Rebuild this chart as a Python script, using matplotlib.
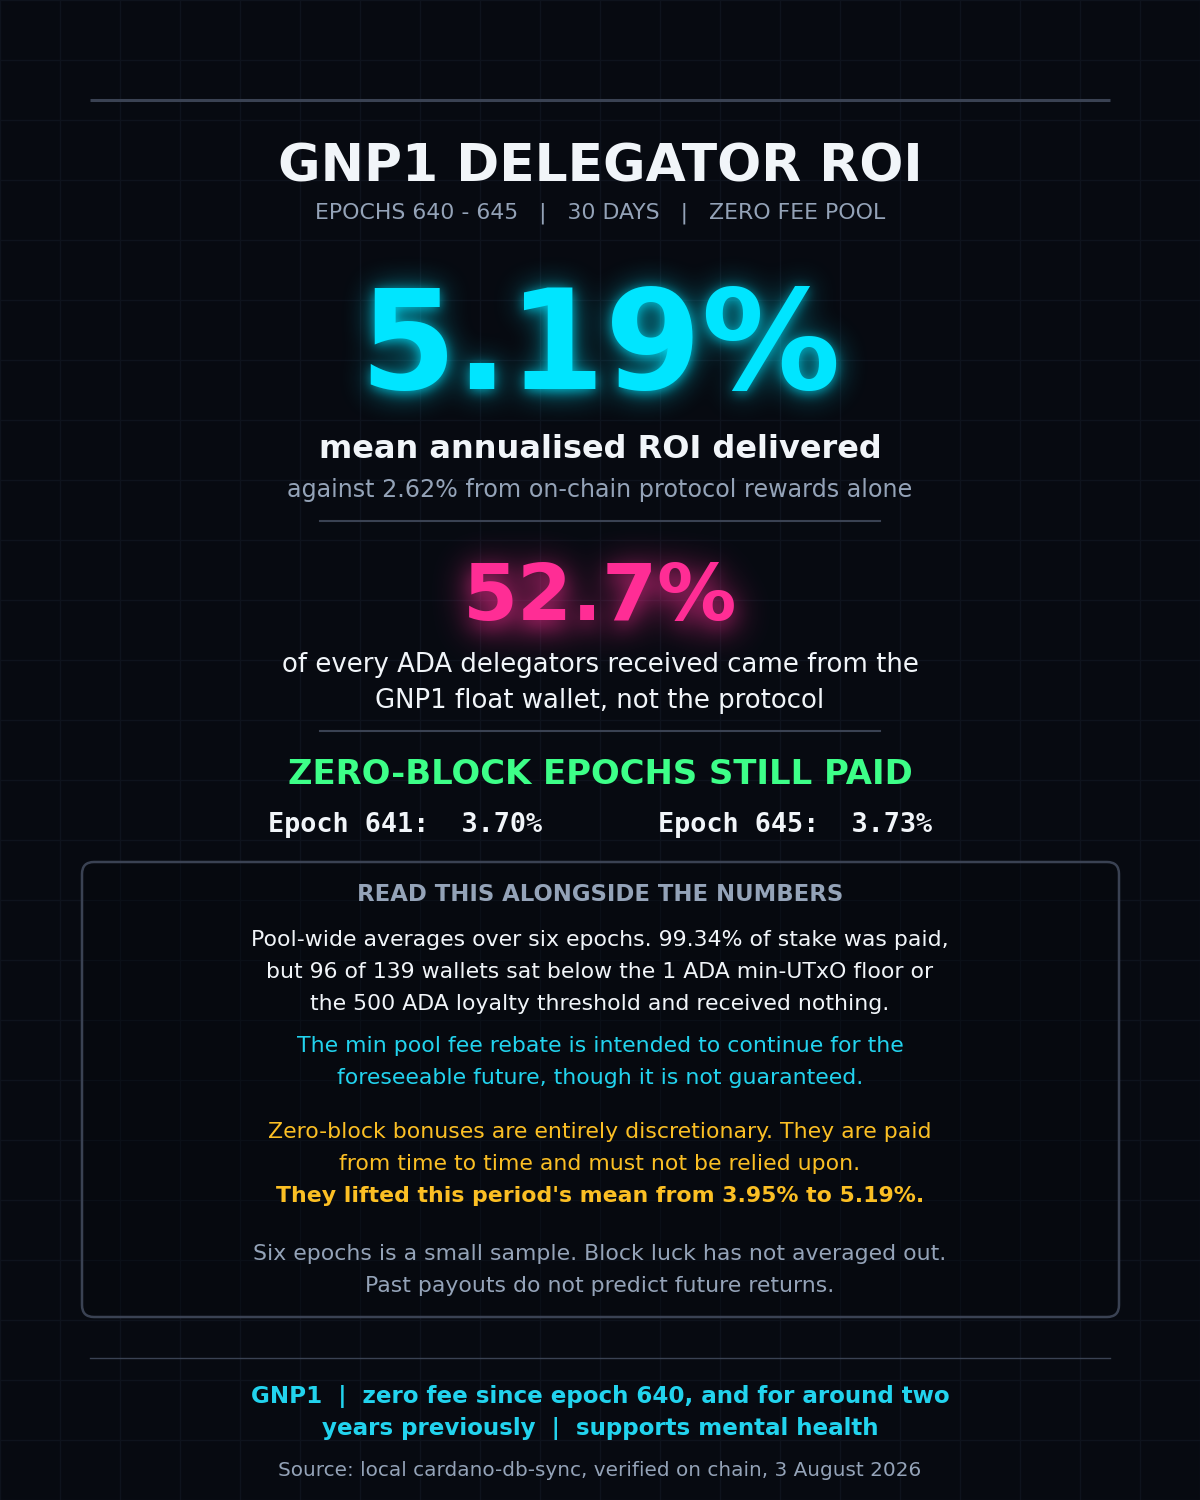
import matplotlib
matplotlib.use("Agg")
import numpy as np
import matplotlib.pyplot as plt
from matplotlib.patches import FancyBboxPatch
from matplotlib.colors import to_rgb

# ---- content ----
title = "GNP1 DELEGATOR ROI"
subtitle = "EPOCHS 640 - 645   |   30 DAYS   |   ZERO FEE POOL"
headline_value = "5.19%"
headline_label = "mean annualised ROI delivered"
headline_note = "against 2.62% from on-chain protocol rewards alone"
share_value = "52.7%"
share_lines = ["of every ADA delegators received came from the",
               "GNP1 float wallet, not the protocol"]
zero_title = "ZERO-BLOCK EPOCHS STILL PAID"
zero_epochs = ["Epoch 641:  3.70%", "Epoch 645:  3.73%"]
box_title = "READ THIS ALONGSIDE THE NUMBERS"
box_body = ["Pool-wide averages over six epochs. 99.34% of stake was paid,",
            "but 96 of 139 wallets sat below the 1 ADA min-UTxO floor or",
            "the 500 ADA loyalty threshold and received nothing."]
box_rebate = ["The min pool fee rebate is intended to continue for the",
              "foreseeable future, though it is not guaranteed."]
box_bonus = ["Zero-block bonuses are entirely discretionary. They are paid",
             "from time to time and must not be relied upon."]
box_bonus_bold = "They lifted this period's mean from 3.95% to 5.19%."
box_caveat = ["Six epochs is a small sample. Block luck has not averaged out.",
              "Past payouts do not predict future returns."]
footer_lines = ["GNP1  |  zero fee since epoch 640, and for around two",
                "years previously  |  supports mental health"]
source = "Source: local cardano-db-sync, verified on chain, 3 August 2026"

BG = "#070a11"
GRID = "#0e131d"
RULE = "#3a4253"
WHITE = "#f1f5f9"
GRAY = "#94a3b8"
CYAN = "#00e5ff"
CYAN2 = "#22d3ee"
PINK = "#ff2d95"
GREEN = "#3dff88"
ORANGE = "#fbbf24"

W, H = 1200, 1500
fig = plt.figure(figsize=(12, 15), dpi=100, facecolor=BG)
ax = fig.add_axes([0, 0, 1, 1])
ax.set_xlim(0, W)
ax.set_ylim(H, 0)
ax.set_facecolor(BG)
ax.axis("off")

# background grid
for g in range(0, W + 1, 60):
    ax.axvline(g, color=GRID, lw=1, zorder=0)
for g in range(0, H + 1, 60):
    ax.axhline(g, color=GRID, lw=1, zorder=0)

def t(x, y, s, size, color, weight="normal", family="DejaVu Sans"):
    return ax.text(x, y, s, fontsize=size, color=color, fontweight=weight, family=family,
                   ha="center", va="baseline", zorder=5)

# rules
ax.plot([90, 1110], [100, 100], color=RULE, lw=2.2, zorder=2, solid_capstyle="butt")
ax.plot([320, 880], [521, 521], color=RULE, lw=1.5, zorder=2)
ax.plot([320, 880], [731, 731], color=RULE, lw=1.5, zorder=2)
ax.plot([90, 1110], [1358, 1358], color=RULE, lw=1, zorder=2)

t(600, 181, title, 37.4, WHITE, "bold")
t(600, 219, subtitle, 15.8, GRAY)

big = t(600, 389, headline_value, 100, CYAN, "bold")
t(600, 458, headline_label, 23, WHITE, "bold")
t(600, 497, headline_note, 17.2, GRAY)

share = t(600, 620, share_value, 57, PINK, "bold")
t(600, 672, share_lines[0], 18.7, WHITE)
t(600, 708, share_lines[1], 18.7, WHITE)

t(600, 784, zero_title, 24.4, GREEN, "bold")
t(405, 832, zero_epochs[0], 19.3, WHITE, "bold", family="DejaVu Sans Mono")
t(795, 832, zero_epochs[1], 19.3, WHITE, "bold", family="DejaVu Sans Mono")

box = FancyBboxPatch((82, 862), 1037, 455, boxstyle="round,pad=0,rounding_size=12",
                     facecolor=(0.02, 0.03, 0.05, 0.35), edgecolor=RULE, lw=1.8, zorder=3)
ax.add_patch(box)

t(600, 901, box_title, 16.4, GRAY, "bold")
for i, s in enumerate(box_body):
    t(600, 946 + 32 * i, s, 15.8, WHITE)
for i, s in enumerate(box_rebate):
    t(600, 1052 + 32 * i, s, 15.8, CYAN2)
for i, s in enumerate(box_bonus):
    t(600, 1138 + 32 * i, s, 15.8, ORANGE)
t(600, 1202, box_bonus_bold, 15.8, ORANGE, "bold")
for i, s in enumerate(box_caveat):
    t(600, 1260 + 32 * i, s, 15.8, GRAY)

for i, s in enumerate(footer_lines):
    t(600, 1403 + 32 * i, s, 16.6, CYAN2, "bold")
t(600, 1476, source, 14.4, GRAY)


# ---- soft glow derived from the rendered text ----
def box_blur(a, r, axis):
    c = np.cumsum(np.pad(a, [(r + 1, r) if i == axis else (0, 0) for i in range(2)],
                         mode="constant"), axis=axis)
    if axis == 0:
        return (c[2 * r + 1:] - c[:-2 * r - 1]) / (2 * r + 1)
    return (c[:, 2 * r + 1:] - c[:, :-2 * r - 1]) / (2 * r + 1)

def blur(a, r):
    for _ in range(3):
        a = box_blur(a, r, 0)
        a = box_blur(a, r, 1)
    return a

def coverage(artist):
    others = [a for a in ax.get_children() if a is not artist]
    vis = [a.get_visible() for a in others]
    for a in others:
        a.set_visible(False)
    fc = fig.get_facecolor()
    fig.set_facecolor((0, 0, 0, 0))
    fig.canvas.draw()
    arr = np.asarray(fig.canvas.buffer_rgba())[:, :, 3].astype(float) / 255.0
    for a, v in zip(others, vis):
        a.set_visible(v)
    fig.set_facecolor(fc)
    return arr

def add_glow(artist, color, layers, dy=0):
    cov = coverage(artist)
    g = np.zeros_like(cov)
    for radius, strength in layers:
        g = g + blur(cov, radius) * strength
    g = np.clip(g, 0, 1)
    img = np.zeros((cov.shape[0], cov.shape[1], 4))
    img[:, :, :3] = to_rgb(color)
    img[:, :, 3] = g
    ax.imshow(img, extent=[0, W, H + dy, dy], zorder=1, interpolation="bilinear",
              aspect="auto")

add_glow(big, CYAN, [(5, 0.5), (14, 0.6)], dy=2)
add_glow(share, PINK, [(8, 0.3), (18, 0.85)], dy=7)
ax.set_xlim(0, W)
ax.set_ylim(H, 0)

fig.savefig("out.png", dpi=100, facecolor=BG)
